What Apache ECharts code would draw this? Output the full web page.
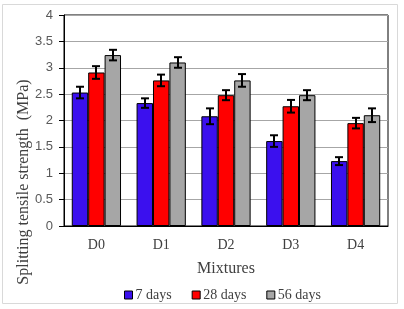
<!DOCTYPE html>
<html>
<head>
<meta charset="utf-8">
<script src="https://cdn.jsdelivr.net/npm/echarts@6/dist/echarts.min.js"></script>
<style>html,body{margin:0;padding:0;background:#fff}#c{width:404px;height:309px}</style>
</head>
<body>
<div id="c"></div>
<script>
var categories = ['D0', 'D1', 'D2', 'D3', 'D4'];
var seriesNames = ['7 days', '28 days', '56 days'];
var days7 = [2.53, 2.33, 2.08, 1.61, 1.23];
var days28 = [2.91, 2.76, 2.48, 2.27, 1.95];
var days56 = [3.24, 3.10, 2.76, 2.48, 2.10];
var err7 = [0.11, 0.09, 0.15, 0.11, 0.075];
var err28 = [0.12, 0.11, 0.095, 0.12, 0.10];
var err56 = [0.10, 0.10, 0.12, 0.095, 0.13];
var yTicks = [0, 0.5, 1, 1.5, 2, 2.5, 3, 3.5, 4];

var values = [days7, days28, days56];
var errors = [err7, err28, err56];
var colors = ['#3B10EE', '#FF0000', '#A6A6A6'];
var CAT_GAP = 0.24;
var serif = 'Liberation Serif';

var chart = echarts.init(document.getElementById('c'), null, {renderer: 'canvas'});

var series = [];
values.forEach(function (vals, k) {
  series.push({
    name: seriesNames[k],
    type: 'bar',
    data: vals,
    barGap: '0%',
    barCategoryGap: (CAT_GAP * 100) + '%',
    itemStyle: {color: colors[k], borderColor: '#000', borderWidth: 1},
    emphasis: {disabled: true},
    animation: false
  });
});
values.forEach(function (vals, k) {
  series.push({
    type: 'custom',
    z: 10,
    animation: false,
    encode: {x: 0, y: 1},
    data: vals.map(function (v, i) { return [i, v, errors[k][i]]; }),
    renderItem: function (params, api) {
      var x = api.value(0), v = api.value(1), e = api.value(2);
      var band = api.size([1, 0])[0];
      var bw = band * (1 - CAT_GAP) / 3;
      var cx = Math.round(api.coord([x, v])[0] + (k - 1) * bw) ;
      var top = api.coord([x, v + e])[1];
      var bot = api.coord([x, v - e])[1];
      var st = {stroke: '#000', lineWidth: 2};
      return {
        type: 'group',
        children: [
          {type: 'line', shape: {x1: cx, y1: top, x2: cx, y2: bot}, style: st},
          {type: 'line', shape: {x1: cx - 4, y1: top, x2: cx + 4, y2: top}, style: st},
          {type: 'line', shape: {x1: cx - 4, y1: bot, x2: cx + 4, y2: bot}, style: st}
        ]
      };
    }
  });
});

chart.setOption({
  animation: false,
  grid: {left: 64, right: 16, top: 15, bottom: 83, show: true, borderColor: '#000', borderWidth: 1, containLabel: false},
  legend: {
    data: seriesNames,
    left: 119,
    top: 283,
    itemWidth: 8,
    itemHeight: 8,
    itemGap: 20,
    icon: 'rect',
    itemStyle: {borderColor: '#000', borderWidth: 1},
    textStyle: {fontFamily: serif, fontSize: 14, color: '#404040', padding: [0, 0, 0, -2]},
    selectedMode: false
  },
  xAxis: {
    type: 'category',
    data: categories,
    name: 'Mixtures',
    nameLocation: 'middle',
    nameGap: 35,
    nameTextStyle: {fontFamily: serif, fontSize: 16, color: '#404040'},
    axisLine: {lineStyle: {color: '#000', width: 1}},
    axisTick: {alignWithLabel: true, length: 5, lineStyle: {color: '#000'}},
    axisLabel: {fontFamily: serif, fontSize: 14, color: '#404040', margin: 12}
  },
  yAxis: {
    type: 'value',
    min: yTicks[0],
    max: yTicks[yTicks.length - 1],
    interval: 0.5,
    axisLine: {show: true, lineStyle: {color: '#000', width: 1}},
    axisTick: {show: true, length: 5, lineStyle: {color: '#000'}},
    axisLabel: {fontFamily: 'Liberation Sans', fontSize: 13, color: '#595959', margin: 11},
    splitLine: {lineStyle: {color: '#A6A6A6', width: 1}}
  },
  graphic: [
    {type: 'rect', shape: {x: 2.5, y: 4.5, width: 395, height: 299}, style: {fill: 'none', stroke: '#D9D9D9', lineWidth: 1}, silent: true, z: -10},
    {type: 'text', x: 24, y: 182, rotation: Math.PI / 2,
     style: {text: 'Splitting tensile strength  (MPa)', fontFamily: serif, fontSize: 16, fill: '#404040', align: 'center', verticalAlign: 'middle'}}
  ],
  series: series
});
</script>
</body>
</html>
